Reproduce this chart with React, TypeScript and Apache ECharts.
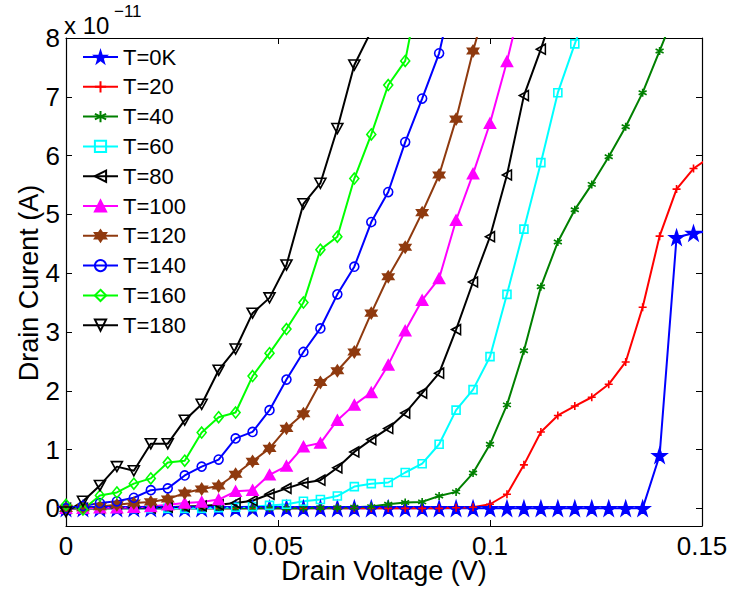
import { useEffect, useRef } from "react";
import * as echarts from "echarts";

// Drain voltage sweep (V)
const voltage = [
  0, 0.004, 0.008, 0.012, 0.016, 0.02, 0.024, 0.028, 0.032, 0.036,
  0.04, 0.044, 0.048, 0.052, 0.056, 0.06, 0.064, 0.068, 0.072, 0.076,
  0.08, 0.084, 0.088, 0.092, 0.096, 0.1, 0.104, 0.108, 0.112, 0.116,
  0.12, 0.124, 0.128, 0.132, 0.136, 0.14, 0.144, 0.148, 0.152,
];

// Drain current, in units of 1e-11 A
const current0K = [
  0, 0, 0, 0, 0, 0, 0, 0, 0, 0, 0, 0, 0, 0, 0, 0, 0, 0, 0, 0,
  0, 0, 0, 0, 0, 0, 0, 0, 0, 0, 0, 0, 0, 0, 0, 0.9, 4.61, 4.68, 4.72,
];
const current20 = [
  0, 0, 0, 0, 0, 0, 0, 0, 0, 0, 0, 0, 0, 0, 0, 0, 0, 0, 0, 0,
  0, 0, 0, 0.01, 0.02, 0.07, 0.24, 0.74, 1.3, 1.58, 1.74, 1.89, 2.11, 2.49,
  3.42, 4.63, 5.43, 5.78, 5.98,
];
const current40 = [
  0, 0, 0, 0, 0, 0, 0, 0, 0, 0, 0, 0, 0, 0, 0, 0.01, 0.01, 0.02, 0.03, 0.07,
  0.1, 0.11, 0.21, 0.28, 0.6, 1.09, 1.76, 2.68, 3.77, 4.53, 5.08, 5.51, 5.98,
  6.49, 7.07, 7.78, 8.5,
];
const current60 = [
  0, 0, 0, 0, 0, 0, 0, 0, 0, 0.01, 0.02, 0.03, 0.05, 0.07, 0.12, 0.15, 0.21,
  0.37, 0.42, 0.44, 0.61, 0.76, 1.09, 1.67, 2.02, 2.58, 3.64, 4.75, 5.88,
  7.07, 7.9, 8.7,
];
const current80 = [
  0, 0, 0, 0.01, 0.01, 0.01, 0.02, 0.03, 0.04, 0.06, 0.09, 0.13, 0.24, 0.34,
  0.43, 0.48, 0.69, 0.96, 1.17, 1.36, 1.62, 1.96, 2.3, 3.04, 3.85, 4.62, 5.67,
  7.02, 7.81, 8.7,
];
const current100 = [
  0, 0, 0.01, 0.01, 0.02, 0.03, 0.06, 0.09, 0.11, 0.15, 0.29, 0.31, 0.57,
  0.72, 1.05, 1.11, 1.5, 1.76, 1.97, 2.44, 3.02, 3.54, 3.91, 4.9, 5.69, 6.55,
  7.6, 8.8,
];
const current120 = [
  0, 0.01, 0.03, 0.06, 0.09, 0.11, 0.16, 0.26, 0.33, 0.38, 0.58, 0.8, 1.02,
  1.36, 1.61, 2.14, 2.34, 2.66, 3.32, 3.94, 4.44, 5.03, 5.67, 6.62, 7.78, 8.8,
];
const current140 = [
  0, 0.04, 0.09, 0.12, 0.18, 0.31, 0.34, 0.56, 0.71, 0.83, 1.19, 1.3, 1.67,
  2.19, 2.66, 3.06, 3.64, 4.11, 4.87, 5.38, 6.23, 6.97, 7.74, 9.0,
];
const current160 = [
  0.06, -0.02, 0.22, 0.27, 0.42, 0.51, 0.78, 0.81, 1.29, 1.55, 1.63, 2.25,
  2.64, 3.05, 3.5, 4.4, 4.62, 5.61, 6.36, 7.2, 7.61, 9.1,
];
const current180 = [
  -0.06, 0.12, 0.39, 0.71, 0.64, 1.1, 1.1, 1.5, 1.77, 2.35, 2.71, 3.32, 3.58,
  4.14, 5.18, 5.53, 6.46, 7.54, 8.12,
];

const seriesNames = [
  "T=0K", "T=20", "T=40", "T=60", "T=80",
  "T=100", "T=120", "T=140", "T=160", "T=180",
];
const seriesValues = [
  current0K, current20, current40, current60, current80,
  current100, current120, current140, current160, current180,
];

const xTicks = [0, 0.05, 0.1, 0.15];
const yTicks = [0, 1, 2, 3, 4, 5, 6, 7, 8];

const FONT = '"Liberation Sans", Arial, Helvetica, sans-serif';

const STAR =
  "path://M50,0 L61.8,35.1 L98.1,35.1 L68.8,56.8 L79.4,91 L50,70 L20.6,91 L31.2,56.8 L1.9,35.1 L38.2,35.1 Z";
const PLUS = "path://M5,0 L5,10 M0,5 L10,5";
const ASTERISK = "path://M5,0 L5,10 M0.67,2.5 L9.33,7.5 M0.67,7.5 L9.33,2.5";
const LEFT_TRI = "path://M0,5 L10,0 L10,10 Z";
const DOWN_TRI = "path://M0,0 L10,0 L5,10 Z";
const HEXAGRAM =
  "path://M50,0 L93.3,75 L6.7,75 Z M50,100 L6.7,25 L93.3,25 Z";

type Style = {
  color: string;
  symbol: string;
  size: number | number[];
  filled: boolean;
};

const styles: Style[] = [
  { color: "#0000ff", symbol: STAR, size: 14, filled: true },
  { color: "#ff0000", symbol: PLUS, size: 8, filled: false },
  { color: "#008000", symbol: ASTERISK, size: 8, filled: false },
  { color: "#00ffff", symbol: "rect", size: 8, filled: false },
  { color: "#000000", symbol: LEFT_TRI, size: [9, 10], filled: false },
  { color: "#ff00ff", symbol: "triangle", size: [11, 10], filled: true },
  { color: "#8f3a0f", symbol: HEXAGRAM, size: 11, filled: true },
  { color: "#0000ff", symbol: "circle", size: 9, filled: false },
  { color: "#00ff00", symbol: "diamond", size: [9, 11], filled: false },
  { color: "#000000", symbol: DOWN_TRI, size: [11, 10], filled: false },
];

export default function App() {
  const ref = useRef<HTMLDivElement>(null);

  useEffect(() => {
    if (!ref.current) return;
    const chart = echarts.init(ref.current, undefined, { renderer: "svg" });

    const series = seriesNames.map((name, i) => {
      const st = styles[i];
      const values = seriesValues[i];
      return {
        name,
        type: "line",
        xAxisIndex: 0,
        yAxisIndex: 0,
        clip: true,
        showAllSymbol: true,
        data: values.map((v, j) => [voltage[j], v]),
        symbol: st.symbol,
        symbolSize: st.size,
        lineStyle: { color: st.color, width: 2 },
        itemStyle: {
          color: st.filled ? st.color : "none",
          borderColor: st.color,
          borderWidth: 1.6,
        },
        emphasis: { disabled: true },
      };
    });

    const axisLine = { show: true, onZero: false, lineStyle: { color: "#000", width: 1.2 } };
    const tick = { show: true, inside: true, length: 6, lineStyle: { color: "#000", width: 1 } };

    chart.setOption({
      animation: false,
      backgroundColor: "#fff",
      grid: { left: 66, right: 30, top: 38, bottom: 68, containLabel: false },
      legend: {
        left: 77,
        top: 41,
        orient: "vertical",
        itemWidth: 35,
        itemHeight: 14,
        itemGap: 7.8,
        selectedMode: false,
        textStyle: { color: "#000", fontSize: 22, fontFamily: FONT },
        data: seriesNames,
      },
      xAxis: [
        {
          type: "value",
          min: 0,
          max: 0.15,
          position: "bottom",
          axisLine,
          axisTick: { ...tick, customValues: xTicks },
          axisLabel: {
            customValues: xTicks,
            margin: 7,
            color: "#000",
            fontSize: 26,
            fontFamily: FONT,
            formatter: (v: number) => String(Math.round(v * 100) / 100),
          },
          splitLine: { show: false },
        },
        {
          type: "value",
          min: 0,
          max: 0.15,
          position: "top",
          axisLine,
          axisTick: { ...tick, customValues: xTicks },
          axisLabel: { show: false },
          splitLine: { show: false },
        },
      ],
      yAxis: [
        {
          type: "value",
          min: -0.3,
          max: 8,
          position: "left",
          axisLine,
          axisTick: { ...tick, customValues: yTicks },
          axisLabel: {
            customValues: yTicks,
            margin: 6,
            color: "#000",
            fontSize: 26,
            fontFamily: FONT,
            formatter: (v: number) => String(Math.round(v)),
          },
          splitLine: { show: false },
        },
        {
          type: "value",
          min: -0.3,
          max: 8,
          position: "right",
          axisLine,
          axisTick: { ...tick, customValues: yTicks },
          axisLabel: { show: false },
          splitLine: { show: false },
        },
      ],
      graphic: [
        {
          type: "text",
          x: 384,
          y: 571,
          style: {
            text: "Drain Voltage (V)",
            font: `27px ${FONT}`,
            fill: "#000",
            align: "center",
            verticalAlign: "middle",
            textAlign: "center",
            textVerticalAlign: "middle",
          },
        },
        {
          type: "text",
          x: 29,
          y: 283,
          rotation: Math.PI / 2,
          style: {
            text: "Drain Curent (A)",
            font: `27px ${FONT}`,
            fill: "#000",
            align: "center",
            verticalAlign: "middle",
            textAlign: "center",
            textVerticalAlign: "middle",
          },
        },
        {
          type: "text",
          x: 64,
          y: 25,
          style: {
            text: "x 10",
            font: `24px ${FONT}`,
            fill: "#000",
            align: "left",
            verticalAlign: "middle",
            textAlign: "left",
            textVerticalAlign: "middle",
          },
        },
        {
          type: "text",
          x: 114,
          y: 11,
          style: {
            text: "\u221211",
            font: `17px ${FONT}`,
            fill: "#000",
            align: "left",
            verticalAlign: "middle",
            textAlign: "left",
            textVerticalAlign: "middle",
          },
        },
      ],
      series,
    });

    return () => chart.dispose();
  }, []);

  return (
    <div
      ref={ref}
      style={{ position: "fixed", left: 0, top: 0, width: 732, height: 594, background: "#fff" }}
    />
  );
}
